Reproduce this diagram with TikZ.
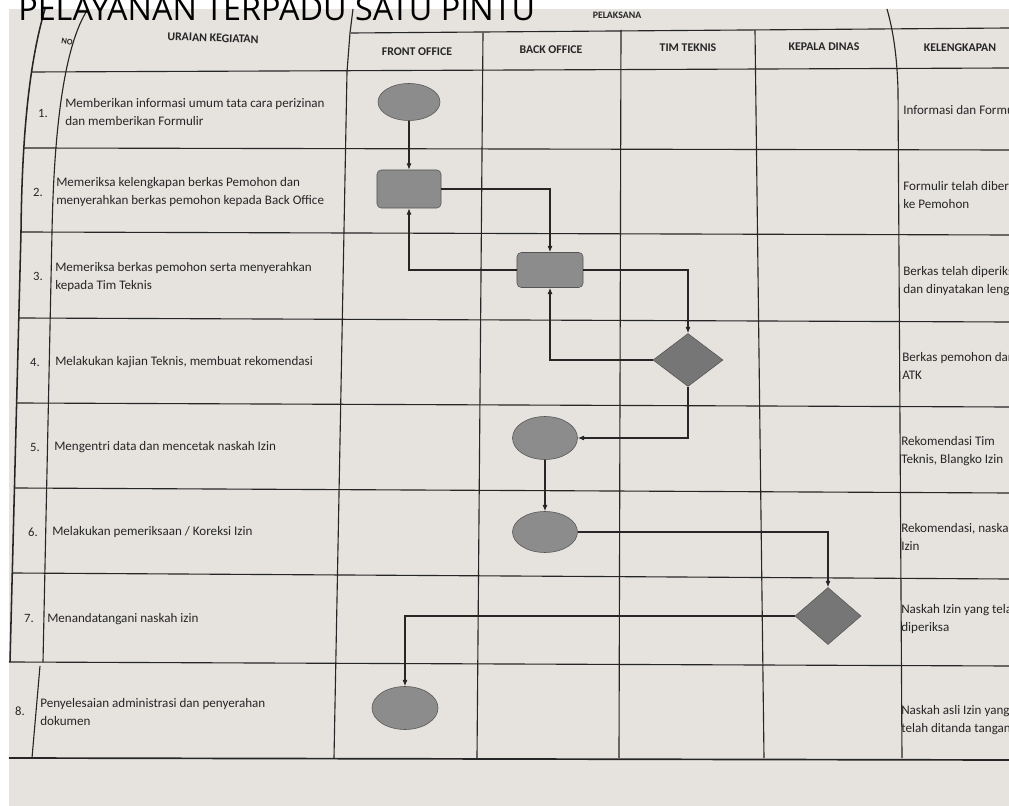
\documentclass[tikz,border=0pt]{standalone}
\usepackage{fontspec}
\setmainfont{Carlito}
\newfontfamily\titlefont{Open Sans}
\usetikzlibrary{shapes.geometric,arrows.meta}
\definecolor{paper}{RGB}{230,227,223}
\definecolor{ink}{RGB}{38,38,38}
\definecolor{shapefill}{RGB}{140,140,140}
\definecolor{diafill}{RGB}{118,118,118}
\definecolor{shapeedge}{RGB}{85,85,85}
\tikzset{
    rule/.style={draw=ink, line width=.8pt},
    flow/.style={draw=shapeedge, fill=shapefill, inner sep=0pt},
    oval/.style={flow, ellipse},
    proc/.style={flow, rounded corners=3pt},
    decide/.style={flow, diamond, fill=diafill},
    txt/.style={anchor=west, align=left, inner sep=0pt, text=ink, font=\fontsize{9.3}{12.8}\selectfont},
    num/.style={inner sep=0pt, text=ink, font=\fontsize{9}{11}\selectfont},
    head/.style={inner sep=0pt, text=ink, font=\bfseries\fontsize{8.4}{10}\selectfont},
    link/.style={draw=ink, line width=.8pt, ->}
}
\begin{document}
\begin{tikzpicture}[x=0.025cm, y=-0.025cm, >={Latex[length=4.5pt,width=3.6pt]}]
    \useasboundingbox (0,0) rectangle (1009,806);
    \clip (0,0) rectangle (1009,806);
    \fill[white] (0,0) rectangle (1009,806);
    \fill[paper] (9,9) rectangle (1009,806);

        %%rows
        \draw[rule] (351,33) -- (1009,28);
        \draw[rule] (31,72) -- (1009,68);
        \draw[rule] (24,148) -- (1009,150);
        \draw[rule] (21,232) -- (1009,235);
        \draw[rule] (19,318) -- (1009,322);
        \draw[rule] (17,403) -- (1009,407);
        \draw[rule] (15,488) -- (1009,493);
        \draw[rule] (12,573) -- (1009,579);
        \draw[rule] (9,662) -- (1009,666);
        \draw[rule, line width=1.2pt] (9,758) -- (1009,760);
        %%columns
        \draw[rule, line width=1.1pt] (45,9) .. controls (30,60) and (22,130) .. (21,232) -- (10,662);
        \draw[rule] (88,9) .. controls (64,45) and (54,130) .. (52,232) -- (43,662);
        \draw[rule] (40,666) -- (32,758);
        \draw[rule] (353,9) -- (350,33) -- (347,72) -- (334,758);
        \draw[rule] (483,33) -- (477,758);
        \draw[rule] (621,30) -- (619,758);
        \draw[rule] (755,30) -- (764,758);
        \draw[rule] (887,9) .. controls (893,30) and (897,55) .. (898,90) -- (902,758);

        %%H
        \node[head, font=\bfseries\fontsize{6}{7}\selectfont, rotate=-8] (hno) at (67,42){NO};
        \node[head, rotate=-2] (hurai) at (213,38){URAIAN KEGIATAN};
        \node[head, font=\bfseries\fontsize{7}{8}\selectfont] (hpel) at (617,15){PELAKSANA};
        \node[head] (hfront) at (417,52){FRONT OFFICE};
        \node[head] (hback) at (551,50){BACK OFFICE};
        \node[head] (htim) at (688,48){TIM TEKNIS};
        \node[head] (hkep) at (824,47){KEPALA DINAS};
        \node[head] (hkel) at (960,48){KELENGKAPAN};

        %%R1
        \node[num] (n1) at (43,113){1.};
        \node[txt] (u1) at (65,112){Memberikan informasi umum tata cara perizinan\\dan memberikan Formulir};
        \node[txt] (k1) at (903,110){Informasi dan Formulir};
        \node[oval, minimum width=1.55cm, minimum height=.925cm] (ell1) at (409,102){};
        %%R2
        \node[num] (n2) at (38,192){2.};
        \node[txt] (u2) at (56,192){Memeriksa kelengkapan berkas Pemohon dan\\menyerahkan berkas pemohon kepada Back Office};
        \node[txt] (k2) at (903,195){Formulir telah diberikan\\ke Pemohon};
        \node[proc, minimum width=1.6cm, minimum height=.95cm] (rect2) at (409,189){};
        %%R3
        \node[num] (n3) at (38,276){3.};
        \node[txt] (u3) at (55,277){Memeriksa berkas pemohon serta menyerahkan\\kepada Tim Teknis};
        \node[txt] (k3) at (903,281){Berkas telah diperiksa\\dan dinyatakan lengkap};
        \node[proc, minimum width=1.65cm, minimum height=.875cm] (rect3) at (550,270){};
        %%R4
        \node[num] (n4) at (35,362){4.};
        \node[txt] (u4) at (55,362){Melakukan kajian Teknis, membuat rekomendasi};
        \node[txt] (k4) at (902,366){Berkas pemohon dan\\ATK};
        \node[decide, minimum width=1.75cm, minimum height=1.325cm] (dia4) at (688,360){};
        %%R5
        \node[num] (n5) at (35,447){5.};
        \node[txt] (u5) at (54,447){Mengentri data dan mencetak naskah Izin};
        \node[txt] (k5) at (901,451){Rekomendasi Tim\\Teknis, Blangko Izin};
        \node[oval, minimum width=1.625cm, minimum height=1.075cm] (ell5) at (545,438){};
        %%R6
        \node[num] (n6) at (33,532){6.};
        \node[txt] (u6) at (52,532){Melakukan pemeriksaan / Koreksi Izin};
        \node[txt] (k6) at (901,537){Rekomendasi, naskah\\Izin};
        \node[oval, minimum width=1.625cm, minimum height=1.025cm] (ell6) at (545,532){};
        %%R7
        \node[num] (n7) at (29,618){7.};
        \node[txt] (u7) at (47,619){Menandatangani naskah izin};
        \node[txt] (k7) at (901,619){Naskah Izin yang telah\\diperiksa};
        \node[decide, minimum width=1.65cm, minimum height=1.425cm] (dia7) at (828,616){};
        %%R8
        \node[num] (n8) at (20,711){8.};
        \node[txt] (u8) at (40,712){Penyelesaian administrasi dan penyerahan\\dokumen};
        \node[txt] (k8) at (901,720){Naskah asli Izin yang\\telah ditanda tangani};
        \node[oval, minimum width=1.65cm, minimum height=1.075cm] (ell8) at (405,708){};

        %%links
        \draw[link] (ell1) -- (rect2);
        \draw[link] (rect2.east) -| (rect3.north);
        \draw[link] (rect3.west) -| (rect2.south);
        \draw[link] (rect3.east) -| (dia4.north);
        \draw[link] (dia4.west) -| (rect3.south);
        \draw[link] (dia4.south) |- (ell5.east);
        \draw[link] (ell5) -- (ell6);
        \draw[link] (ell6.east) -| (dia7.north);
        \draw[link] (dia7.west) -| (ell8.north);

    \node[anchor=base west, inner sep=0pt, font=\titlefont\fontsize{23}{26}\selectfont] (title) at (18,21){PELAYANAN TERPADU SATU PINTU};
\end{tikzpicture}
\end{document}
